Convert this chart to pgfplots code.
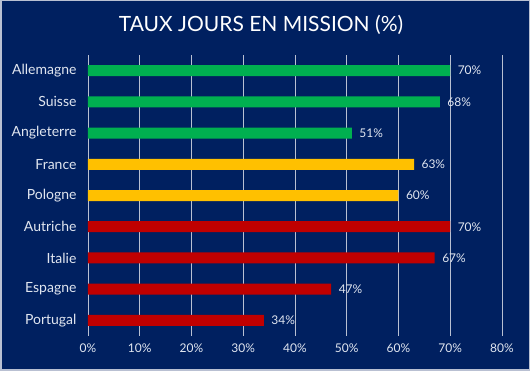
\documentclass[border=0pt]{standalone}
\usepackage{pgfplots}
\pgfplotsset{compat=1.18}
\usepackage{fontspec}
\setmainfont{Lato}
\definecolor{bg}{RGB}{0,32,96}
\definecolor{gridc}{RGB}{185,192,210}
\definecolor{txt}{RGB}{225,230,240}
\definecolor{cgreen}{RGB}{0,176,80}
\definecolor{cyellow}{RGB}{255,192,0}
\definecolor{cred}{RGB}{192,0,0}
\begin{document}
\begin{tikzpicture}[x=1pt,y=1pt]
\fill[bg] (0,0) rectangle (530,371);
\draw[gridc, line width=1.5pt] (0.75,0.75) rectangle (529.25,370.25);
\useasboundingbox (0,0) rectangle (530,371);
\node[text=white, font=\fontsize{21}{25}\selectfont] at (261,346) {TAUX JOURS EN MISSION (\%)};
\begin{axis}[
  at={(88pt,35pt)}, anchor=south west,
  width=414pt, height=281pt, scale only axis,
  xmin=0, xmax=80, ymin=-0.5, ymax=8.5,
  y dir=reverse,
  xbar, bar width=11pt, bar shift=0pt,
  axis line style={draw=none},
  major tick length=0pt,
  xmajorgrids, grid style={gridc, line width=0.8pt},
  xtick={0,10,...,80},
  xticklabel={\pgfmathprintnumber{\tick}\%},
  xticklabel style={text=txt, font=\fontsize{12}{14}\selectfont, yshift=-4pt},
  ytick={0,...,8},
  yticklabels={Allemagne,Suisse,Angleterre,France,Pologne,Autriche,Italie,Espagne,Portugal},
  yticklabel style={text=txt, font=\fontsize{14}{16}\selectfont, xshift=-8pt},
  /pgf/number format/assume math mode=true,
  point meta=x,
  nodes near coords={\pgfmathprintnumber{\pgfplotspointmeta}\%},
  nodes near coords style={text=txt, font=\fontsize{12}{14}\selectfont, anchor=west, xshift=4pt},
]
\addplot[fill=cgreen, draw=none] coordinates {(70,0) (68,1) (51,2)};
\addplot[fill=cyellow, draw=none] coordinates {(63,3) (60,4)};
\addplot[fill=cred, draw=none] coordinates {(70,5) (67,6) (47,7) (34,8)};
\end{axis}
\end{tikzpicture}
\end{document}
